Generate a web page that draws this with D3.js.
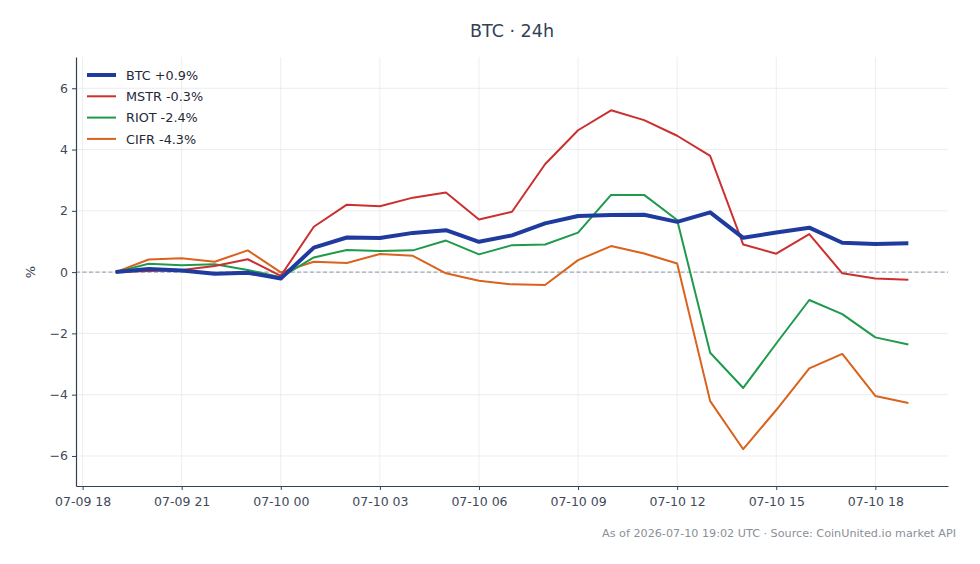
<!DOCTYPE html>
<html><head><meta charset="utf-8">
<script src="https://cdn.jsdelivr.net/npm/d3@7"></script>
<style>
body{margin:0;background:#fff;}
svg{display:block;font-family:"DejaVu Sans",sans-serif;}
</style></head>
<body><svg id="c" width="980" height="564"></svg>
<script>
const hours = ["2026-07-09T19:00","2026-07-09T20:00","2026-07-09T21:00","2026-07-09T22:00","2026-07-09T23:00",
"2026-07-10T00:00","2026-07-10T01:00","2026-07-10T02:00","2026-07-10T03:00","2026-07-10T04:00","2026-07-10T05:00",
"2026-07-10T06:00","2026-07-10T07:00","2026-07-10T08:00","2026-07-10T09:00","2026-07-10T10:00","2026-07-10T11:00",
"2026-07-10T12:00","2026-07-10T13:00","2026-07-10T14:00","2026-07-10T15:00","2026-07-10T16:00","2026-07-10T17:00",
"2026-07-10T18:00","2026-07-10T19:00"];
const btc  = [0,0.10,0.05,-0.05,-0.02,-0.21,0.80,1.13,1.11,1.28,1.37,0.99,1.20,1.59,1.83,1.86,1.87,1.64,1.95,1.12,1.29,1.45,0.96,0.92,0.94];
const mstr = [0,0.04,0.07,0.20,0.42,-0.12,1.48,2.20,2.15,2.43,2.60,1.72,1.97,3.52,4.63,5.28,4.96,4.45,3.79,0.90,0.60,1.24,-0.04,-0.21,-0.25];
const riot = [0,0.27,0.22,0.26,0.07,-0.17,0.48,0.72,0.69,0.71,1.03,0.58,0.88,0.90,1.29,2.52,2.52,1.70,-2.63,-3.78,-2.33,-0.91,-1.37,-2.13,-2.36];
const cifr = [0,0.41,0.45,0.34,0.71,-0.01,0.34,0.30,0.59,0.53,-0.04,-0.28,-0.40,-0.42,0.39,0.85,0.61,0.28,-4.21,-5.78,-4.50,-3.14,-2.67,-4.04,-4.27];
const seriesNames = ["BTC +0.9%","MSTR -0.3%","RIOT -2.4%","CIFR -4.3%"];
const seriesColors = ["#1f3b9e","#cc2f2f","#1f9a4c","#da621c"];
const seriesWidths = [4,2,2,2];
const yTicks = [-6,-4,-2,0,2,4,6];
const title = "BTC · 24h";
const footer = "As of 2026-07-10 19:02 UTC · Source: CoinUnited.io market API";

const svg = d3.select("#c");
const M = {l:76, r:948, t:57, b:486};
const parse = d3.timeParse("%Y-%m-%dT%H:%M");
const times = hours.map(parse);
const t0 = times[0], t1 = times[times.length-1];
const pad = (t1 - t0) * 0.05;
const x = d3.scaleTime().domain([new Date(+t0 - pad), new Date(+t1 + pad)]).range([M.l, M.r]);
const y = d3.scaleLinear().domain([-6.98, 7.02]).range([M.b, M.t]);
const xTicks = d3.timeHour.every(3).range(d3.timeHour.floor(x.domain()[0]), x.domain()[1]).filter(d => d >= x.domain()[0]);
const ink = "#334155";

// grid
svg.append("g").selectAll("line").data(xTicks).join("line")
  .attr("x1", d => x(d)).attr("x2", d => x(d)).attr("y1", M.t).attr("y2", M.b)
  .attr("stroke", "#e6e8ec").attr("stroke-width", 0.8);
svg.append("g").selectAll("line").data(yTicks).join("line")
  .attr("x1", M.l).attr("x2", M.r).attr("y1", d => y(d)).attr("y2", d => y(d))
  .attr("stroke", "#e6e8ec").attr("stroke-width", 0.8);

// zero line
svg.append("line").attr("x1", M.l).attr("x2", M.r).attr("y1", y(0)).attr("y2", y(0))
  .attr("stroke", "#8796aa").attr("stroke-width", 1).attr("stroke-dasharray", "4,2.5");

// axes
const xAxis = svg.append("g").attr("transform", `translate(0,${M.b})`)
  .call(d3.axisBottom(x).tickValues(xTicks).tickFormat(d3.timeFormat("%m-%d %H")).tickSize(4).tickSizeOuter(0));
const yAxis = svg.append("g").attr("transform", `translate(${M.l},0)`)
  .call(d3.axisLeft(y).tickValues(yTicks).tickFormat(d => d < 0 ? "\u2212" + Math.abs(d) : d).tickSize(4).tickSizeOuter(0));
[xAxis, yAxis].forEach(g => {
  g.select(".domain").attr("stroke", ink).attr("stroke-width", 1.2);
  g.selectAll(".tick line").attr("stroke", ink).attr("stroke-width", 1);
  g.selectAll("text").attr("fill", "#3f4a5a").style("font-family", "DejaVu Sans").style("font-size", "12.5px");
});
xAxis.selectAll("text").attr("dy", "1.0em");
yAxis.selectAll("text").attr("x", -8);

// lines
const data = [btc, mstr, riot, cifr];
const line = d3.line().x((d, i) => x(times[i])).y(d => y(d));
const order = [3, 2, 1, 0];
svg.append("g").selectAll("path").data(order).join("path")
  .attr("d", k => line(data[k])).attr("fill", "none")
  .attr("stroke", k => seriesColors[k]).attr("stroke-width", k => seriesWidths[k])
  .attr("stroke-linejoin", "round").attr("stroke-linecap", "butt");

// legend
const lg = svg.append("g");
seriesNames.forEach((n, i) => {
  const yy = 75 + i * 21.3;
  lg.append("line").attr("x1", 87).attr("x2", 116).attr("y1", yy).attr("y2", yy)
    .attr("stroke", seriesColors[i]).attr("stroke-width", seriesWidths[i]);
  lg.append("text").attr("x", 126).attr("y", yy).attr("dy", "0.36em")
    .attr("fill", "#1f2937").style("font-size", "12.8px").text(n);
});

// y label
svg.append("text").attr("transform", `translate(35,${y(0)}) rotate(-90)`)
  .attr("text-anchor", "middle").attr("fill", ink).style("font-size", "13px").text("%");

// title
svg.append("text").attr("x", (M.l + M.r) / 2).attr("y", 37).attr("text-anchor", "middle")
  .attr("fill", "#334155").style("font-size", "17.5px").text(title);

// footer
svg.append("text").attr("x", 956).attr("y", 537).attr("text-anchor", "end")
  .attr("fill", "#8a9099").style("font-size", "11.2px").text(footer);
</script></body></html>
